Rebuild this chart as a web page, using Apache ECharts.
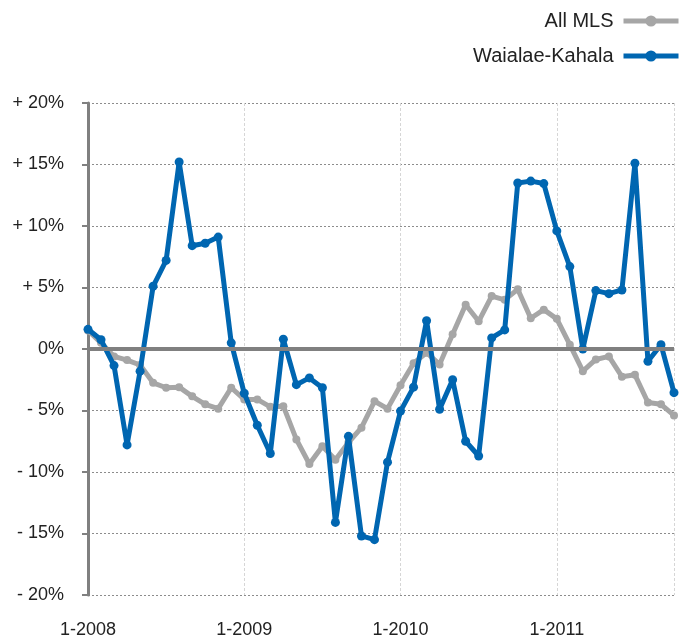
<!DOCTYPE html>
<html>
<head>
<meta charset="utf-8">
<style>
  html, body { margin: 0; padding: 0; background: #ffffff; }
  #chart { width: 686px; height: 639px; }
</style>
<script src="https://cdn.jsdelivr.net/npm/echarts@6/dist/echarts.min.js"></script>
</head>
<body>
<div id="chart"></div>
<script>
// Monthly categories, January 2008 through October 2011
const months = [
  '1-2008','2-2008','3-2008','4-2008','5-2008','6-2008','7-2008','8-2008','9-2008','10-2008','11-2008','12-2008',
  '1-2009','2-2009','3-2009','4-2009','5-2009','6-2009','7-2009','8-2009','9-2009','10-2009','11-2009','12-2009',
  '1-2010','2-2010','3-2010','4-2010','5-2010','6-2010','7-2010','8-2010','9-2010','10-2010','11-2010','12-2010',
  '1-2011','2-2011','3-2011','4-2011','5-2011','6-2011','7-2011','8-2011','9-2011','10-2011'
];

// Year-over-year change, percent
const allMls = [
  1.5, 0.5, -0.6, -0.9, -1.3, -2.75, -3.15, -3.1, -3.85, -4.5, -4.85, -3.15,
  -4.1, -4.1, -4.7, -4.65, -7.35, -9.35, -7.9, -9.0, -7.6, -6.4, -4.25, -4.85,
  -2.95, -1.15, -0.3, -1.25, 1.2, 3.6, 2.25, 4.3, 4.0, 4.85, 2.5, 3.2,
  2.45, 0.35, -1.8, -0.85, -0.6, -2.25, -2.1, -4.35, -4.5, -5.4
];
const waialaeKahala = [
  1.6, 0.75, -1.35, -7.8, -1.8, 5.1, 7.2, 15.2, 8.4, 8.6, 9.1, 0.5,
  -3.6, -6.2, -8.5, 0.8, -2.9, -2.35, -3.15, -14.1, -7.1, -15.2, -15.5, -9.2,
  -5.05, -3.1, 2.3, -4.9, -2.5, -7.5, -8.7, 0.9, 1.55, 13.5, 13.65, 13.45,
  9.6, 6.7, 0.0, 4.75, 4.5, 4.8, 15.1, -1.0, 0.35, -3.55
];

// Value-axis ticks and their printed labels
const yTicks = [-20, -15, -10, -5, 0, 5, 10, 15, 20];
const yTickLabels = ['- 20%', '- 15%', '- 10%', '- 5%', '0%', '+ 5%', '+ 10%', '+ 15%', '+ 20%'];

const FONT = '"Liberation Sans", Arial, Helvetica, sans-serif';
const BLUE = '#0066b1';
const GRAY = '#a6a6a6';
const AXIS_GRAY = '#808080';

const chart = echarts.init(document.getElementById('chart'), null, { renderer: 'canvas' });

chart.setOption({
  animation: false,
  backgroundColor: '#ffffff',
  textStyle: { fontFamily: FONT },
  legend: {
    orient: 'vertical',
    right: 0,
    top: 6,
    align: 'right',
    itemWidth: 55,
    itemHeight: 14,
    itemGap: 15,
    selectedMode: false,
    lineStyle: { width: 5 },
    textStyle: { fontFamily: FONT, fontSize: 20, color: '#222222', padding: [0, 5, 0, 0] },
    data: ['All MLS', 'Waialae-Kahala']
  },
  grid: { left: 88, right: 12, top: 103, bottom: 42, containLabel: false },
  xAxis: {
    type: 'category',
    data: months,
    boundaryGap: false,
    axisLine: { show: false },
    axisTick: { show: false },
    axisLabel: {
      interval: (i) => i % 12 === 0,
      margin: 26,
      fontSize: 18,
      color: '#222222',
      fontFamily: FONT
    },
    splitLine: {
      show: true,
      interval: (i) => i % 12 === 0 || i === months.length - 1,
      lineStyle: { color: '#d6d6d6', type: [3, 2], width: 1 }
    }
  },
  yAxis: {
    type: 'value',
    min: yTicks[0],
    max: yTicks[yTicks.length - 1],
    interval: 5,
    axisLine: { show: true, lineStyle: { color: AXIS_GRAY, width: 3 } },
    axisTick: { show: true, inside: false, length: 6, lineStyle: { color: AXIS_GRAY, width: 2 } },
    axisLabel: {
      margin: 24,
      fontSize: 18,
      color: '#222222',
      fontFamily: FONT,
      formatter: (v) => {
        const k = yTicks.indexOf(v);
        return k >= 0 ? yTickLabels[k] : '';
      }
    },
    splitLine: { show: true, lineStyle: { color: '#8c8c8c', type: [2, 2], width: 1 } }
  },
  series: [
    {
      name: 'All MLS',
      type: 'line',
      data: allMls,
      color: GRAY,
      lineStyle: { color: GRAY, width: 5 },
      itemStyle: { color: GRAY },
      symbol: 'circle',
      symbolSize: 8,
      showAllSymbol: true,
      z: 2,
      markLine: {
        silent: true,
        symbol: 'none',
        label: { show: false },
        lineStyle: { color: AXIS_GRAY, width: 4, type: 'solid' },
        data: [{ yAxis: 0 }]
      }
    },
    {
      name: 'Waialae-Kahala',
      type: 'line',
      data: waialaeKahala,
      color: BLUE,
      lineStyle: { color: BLUE, width: 5 },
      itemStyle: { color: BLUE },
      symbol: 'circle',
      symbolSize: 9,
      showAllSymbol: true,
      z: 3
    }
  ]
});
</script>
</body>
</html>
